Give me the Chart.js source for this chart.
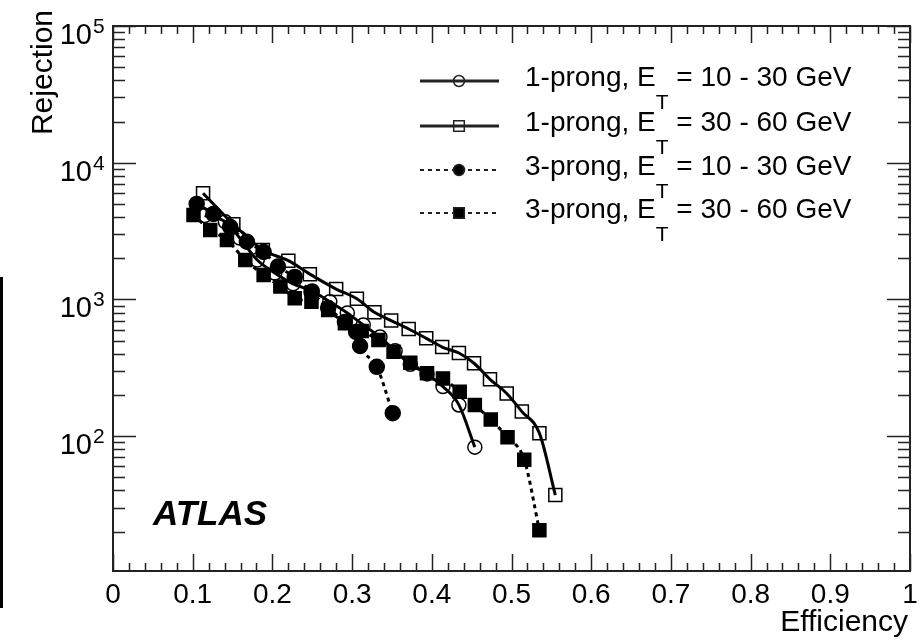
<!DOCTYPE html>
<html>
<head>
<meta charset="utf-8">
<title>Rejection vs Efficiency</title>
<script src="https://cdn.jsdelivr.net/npm/chart.js@4/dist/chart.umd.min.js"></script>
<style>
  html, body { margin: 0; padding: 0; background: #fff; }
  canvas { display: block; }
</style>
</head>
<body>
<canvas id="rej-chart" width="922" height="642"></canvas>
<script>
// efficiency / rejection points, one pair of arrays per sample
const effOneProngLow = [0.115, 0.141, 0.159, 0.181, 0.203, 0.226, 0.250, 0.272, 0.294, 0.314, 0.335, 0.354, 0.373, 0.394, 0.414, 0.434, 0.454];
const rejOneProngLow = [4100, 3690, 2810, 1940, 1560, 1300, 1150, 960, 795, 650, 530, 420, 335, 285, 230, 169, 83];

const effOneProngHigh = [0.113, 0.151, 0.188, 0.220, 0.247, 0.280, 0.306, 0.328, 0.349, 0.371, 0.393, 0.413, 0.434, 0.453, 0.473, 0.494, 0.513, 0.535, 0.555];
const rejOneProngHigh = [5980, 3550, 2300, 1920, 1530, 1190, 1010, 805, 700, 607, 519, 448, 405, 341, 260, 205, 151, 105, 37];

const effThreeProngLow = [0.105, 0.126, 0.147, 0.168, 0.189, 0.207, 0.228, 0.249, 0.270, 0.291, 0.305, 0.310, 0.331, 0.351];
const rejThreeProngLow = [4990, 4220, 3390, 2640, 2220, 1740, 1460, 1130, 865, 684, 577, 456, 321, 147];

const effThreeProngHigh = [0.101, 0.122, 0.143, 0.166, 0.189, 0.210, 0.228, 0.249, 0.270, 0.291, 0.312, 0.333, 0.352, 0.373, 0.394, 0.414, 0.435, 0.454, 0.474, 0.495, 0.516, 0.535];
const rejThreeProngHigh = [4150, 3220, 2720, 1940, 1510, 1240, 1020, 960, 836, 668, 587, 505, 414, 344, 288, 264, 211, 169, 132, 98, 67, 20.5];

const seriesLabels = ['1-prong', '1-prong', '3-prong', '3-prong'];
const etRanges = ['10 - 30', '30 - 60', '10 - 30', '30 - 60'];

const xTickValues = [0, 0.1, 0.2, 0.3, 0.4, 0.5, 0.6, 0.7, 0.8, 0.9, 1];
const yDecades = [2, 3, 4, 5];

const FONT = '"Liberation Sans", Arial, sans-serif';

function toPoints(xs, ys) {
    return xs.map(function (x, i) { return { x: x, y: ys[i] }; });
}

// marker looks, shared by the plot and the legend
const styles = [
    { point: 'circle', fill: 'rgba(0,0,0,0)', dash: [], radius: 7, lRadius: 5.5 },
    { point: 'rect', fill: 'rgba(0,0,0,0)', dash: [], radius: 9.2, lRadius: 7.5 },
    { point: 'circle', fill: '#000', dash: [4, 4], radius: 7.5, lRadius: 5.5 },
    { point: 'rect', fill: '#000', dash: [4, 4], radius: 9.2, lRadius: 7.5 }
];

const allData = [
    toPoints(effOneProngLow, rejOneProngLow),
    toPoints(effOneProngHigh, rejOneProngHigh),
    toPoints(effThreeProngLow, rejThreeProngLow),
    toPoints(effThreeProngHigh, rejThreeProngHigh)
];

const drawOrder = [4, 3, 2, 1];

const datasets = allData.map(function (pts, i) {
    const s = styles[i];
    return {
        label: seriesLabels[i] + ', ET = ' + etRanges[i] + ' GeV',
        data: pts,
        showLine: true,
        borderColor: '#000',
        borderWidth: 3,
        borderDash: s.dash,
        cubicInterpolationMode: 'monotone',
        pointStyle: s.point,
        pointRadius: s.radius,
        pointBackgroundColor: s.fill,
        pointBorderColor: '#000',
        pointBorderWidth: 1.5,
        order: drawOrder[i]
    };
});

// frame, ticks, labels and legend in the ROOT look
const rootFrame = {
    id: 'rootFrame',
    afterDraw(chart) {
        const ctx = chart.ctx;
        const a = chart.chartArea;
        const xs = chart.scales.x;
        const ys = chart.scales.y;
        ctx.save();

        ctx.strokeStyle = '#222';
        ctx.lineWidth = 1.5;
        ctx.beginPath();
        // x ticks, bottom and top
        for (let k = 0; k <= 50; k++) {
            const px = Math.round(xs.getPixelForValue(k / 50)) + 0.5;
            const len = (k % 5 === 0) ? 17 : 8;
            ctx.moveTo(px, a.bottom); ctx.lineTo(px, a.bottom - len);
            ctx.moveTo(px, a.top); ctx.lineTo(px, a.top + len);
        }
        // y ticks, left and right
        for (let d = 1; d <= 5; d++) {
            for (let m = 1; m <= 9; m++) {
                const v = m * Math.pow(10, d);
                if (v < ys.min || v > ys.max) continue;
                const py = Math.round(ys.getPixelForValue(v)) + 0.5;
                const len = (m === 1) ? 23 : 12;
                ctx.moveTo(a.left, py); ctx.lineTo(a.left + len, py);
                ctx.moveTo(a.right, py); ctx.lineTo(a.right - len, py);
            }
        }
        ctx.stroke();

        ctx.lineWidth = 2;
        ctx.strokeRect(a.left, a.top, a.right - a.left, a.bottom - a.top);

        ctx.fillStyle = '#000';
        // x tick labels
        ctx.font = '28px ' + FONT;
        ctx.textAlign = 'center';
        ctx.textBaseline = 'alphabetic';
        xTickValues.forEach(function (v) {
            const txt = (v === 0 || v === 1) ? String(v) : v.toFixed(1);
            ctx.fillText(txt, xs.getPixelForValue(v), 603);
        });

        // y decade labels with exponents
        yDecades.forEach(function (e) {
            const py = ys.getPixelForValue(Math.pow(10, e));
            ctx.font = '29px ' + FONT;
            ctx.textAlign = 'right';
            ctx.fillText('10', 92, py + 18);
            ctx.font = '21px ' + FONT;
            ctx.textAlign = 'left';
            ctx.fillText(String(e), 93, py + 7);
        });

        // axis titles
        ctx.font = '30px ' + FONT;
        ctx.textAlign = 'right';
        ctx.fillText('Efficiency', 908, 631);
        ctx.save();
        ctx.translate(52, 10);
        ctx.rotate(-Math.PI / 2);
        ctx.fillText('Rejection', 0, 0);
        ctx.restore();

        ctx.font = 'italic bold 35px ' + FONT;
        ctx.textAlign = 'left';
        ctx.fillText('ATLAS', 153, 525);

        // legend
        const rowY = [81, 126, 170, 213];
        for (let i = 0; i < 4; i++) {
            const s = styles[i];
            const y = rowY[i];
            ctx.save();
            ctx.lineWidth = s.dash.length ? 2 : 3;
            ctx.setLineDash(s.dash);
            ctx.beginPath();
            ctx.moveTo(420, y); ctx.lineTo(499, y);
            ctx.stroke();
            ctx.restore();
            ctx.save();
            ctx.lineWidth = 1.5;
            ctx.fillStyle = s.fill;
            ctx.beginPath();
            if (s.point === 'circle') {
                ctx.arc(459, y, s.lRadius, 0, Math.PI * 2);
            } else {
                const h = s.lRadius * Math.SQRT1_2;
                ctx.rect(459 - h, y - h, 2 * h, 2 * h);
            }
            ctx.fill();
            ctx.stroke();
            ctx.restore();

            const base = y + 5;
            ctx.fillStyle = '#000';
            ctx.textAlign = 'left';
            ctx.font = '28px ' + FONT;
            const head = seriesLabels[i] + ', E';
            ctx.fillText(head, 525, base);
            const w = ctx.measureText(head).width;
            ctx.font = '21px ' + FONT;
            ctx.fillText('T', 525 + w, base + 23);
            const ws = ctx.measureText('T').width;
            ctx.font = '28px ' + FONT;
            ctx.fillText(' = ' + etRanges[i] + ' GeV', 525 + w + ws, base);
        }

        // dark strip on the left edge of the figure
        ctx.fillRect(0, 277, 3, 331);
        ctx.restore();
    }
};

const ctx = document.getElementById('rej-chart').getContext('2d');
new Chart(ctx, {
    type: 'scatter',
    data: { datasets: datasets },
    options: {
        responsive: false,
        animation: false,
        devicePixelRatio: 1,
        layout: { padding: { left: 113, right: 12, top: 26, bottom: 71 } },
        plugins: {
            legend: { display: false },
            tooltip: { enabled: false }
        },
        scales: {
            x: { type: 'linear', min: 0, max: 1, display: false },
            y: { type: 'logarithmic', min: 10.3, max: 100000, display: false }
        }
    },
    plugins: [rootFrame]
});
</script>
</body>
</html>
